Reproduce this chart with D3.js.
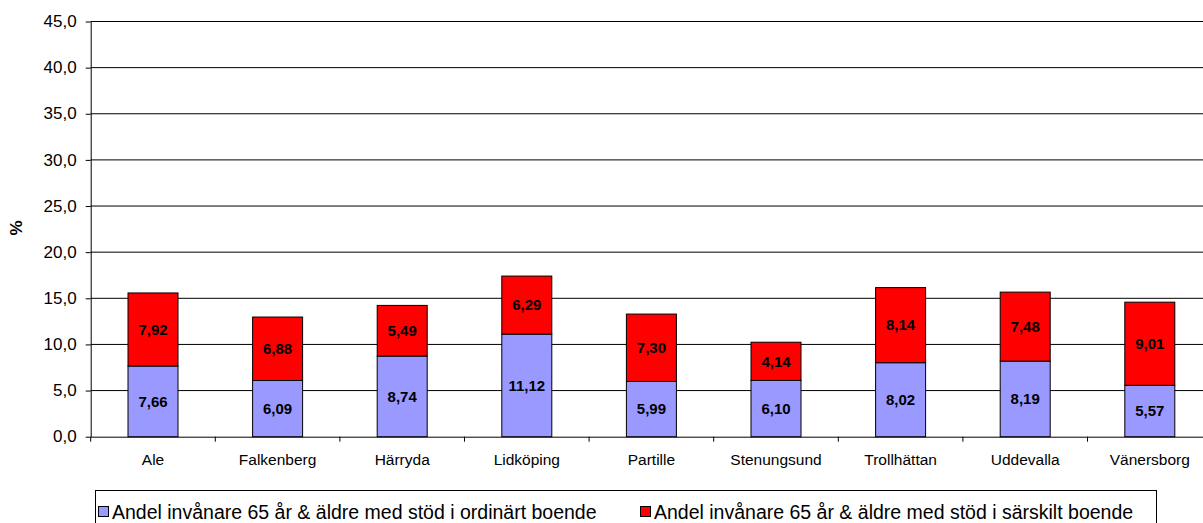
<!DOCTYPE html>
<html><head><meta charset="utf-8">
<script src="https://cdn.jsdelivr.net/npm/d3@7"></script>
<style>
body{margin:0;background:#fff;}
text{font-family:"Liberation Sans",Arial,sans-serif;}
</style></head>
<body>
<svg id="c" width="1203" height="523"></svg>
<script>
const categories = ["Ale","Falkenberg","Härryda","Lidköping","Partille","Stenungsund","Trollhättan","Uddevalla","Vänersborg"];
const ordinart = [7.66,6.09,8.74,11.12,5.99,6.10,8.02,8.19,5.57];
const sarskilt = [7.92,6.88,5.49,6.29,7.30,4.14,8.14,7.48,9.01];
const yTicks = [0,5,10,15,20,25,30,35,40,45];
const seriesNames = ["Andel invånare 65 år & äldre med stöd i ordinärt boende","Andel invånare 65 år & äldre med stöd i särskilt boende"];
const colors = ["#9999FF","#FF0000"];

const svg = d3.select("#c");
const left = 90.7, bw = 124.6;
const x = d3.scaleBand().domain(categories).range([left, left + bw*categories.length]).paddingInner(0).paddingOuter(0);
const y = d3.scaleLinear().domain([0,45]).range([436.7,21.5]);
const fmt = v => d3.format(".1f")(v).replace(".",",");
const fmt2 = v => d3.format(".2f")(v).replace(".",",");

// gridlines
svg.append("g").selectAll("line").data(yTicks.filter(d=>d>0)).join("line")
  .attr("x1",left).attr("x2",1203).attr("y1",d=>y(d)).attr("y2",d=>y(d))
  .attr("stroke","#000").attr("stroke-width",1);

// y axis
const ya = svg.append("g").attr("transform",`translate(${left},0)`)
  .call(d3.axisLeft(y).tickValues(yTicks).tickFormat(fmt).tickSize(5).tickSizeOuter(0));
ya.select(".domain").attr("stroke","#000");
ya.selectAll("line").attr("stroke","#000");
ya.selectAll("text").attr("font-size",17).attr("fill","#000").attr("x",-14).attr("dy","0.3em").attr("font-family","Liberation Sans, Arial, sans-serif");

// x axis
const xa = svg.append("g").attr("transform",`translate(0,${y(0)})`)
  .call(d3.axisBottom(x).tickSize(0).tickSizeOuter(0));
xa.select(".domain").attr("stroke","#000");
xa.selectAll("text").attr("font-size",15.5).attr("fill","#000").attr("dy","0").attr("y",28.5).attr("font-family","Liberation Sans, Arial, sans-serif");
svg.append("g").selectAll("line").data(categories.map((c,i)=>i)).join("line")
  .attr("x1",i=>x.range()[0]+i*x.bandwidth()).attr("x2",i=>x.range()[0]+i*x.bandwidth())
  .attr("y1",y(0)).attr("y2",y(0)+5).attr("stroke","#000");

// bars
const barW = 50;
const stacked = categories.map((c,i)=>({c, segs:[{v:ordinart[i],y0:0,y1:ordinart[i],k:0},{v:sarskilt[i],y0:ordinart[i],y1:ordinart[i]+sarskilt[i],k:1}]}));
const bg = svg.append("g").selectAll("g").data(stacked).join("g");
bg.selectAll("rect").data(d=>d.segs.map(s=>({...s,c:d.c}))).join("rect")
  .attr("x",d=>x(d.c)+x.bandwidth()/2-barW/2).attr("width",barW)
  .attr("y",d=>y(d.y1)).attr("height",d=>y(d.y0)-y(d.y1))
  .attr("fill",d=>colors[d.k]).attr("stroke","#000").attr("stroke-width",1);
bg.selectAll("text").data(d=>d.segs.map(s=>({...s,c:d.c}))).join("text")
  .attr("x",d=>x(d.c)+x.bandwidth()/2).attr("y",d=>y((d.y0+d.y1)/2))
  .attr("dy","0.35em").attr("text-anchor","middle").attr("font-size",15).attr("font-weight","bold")
  .text(d=>fmt2(d.v));

// y title
svg.append("text").attr("transform","translate(22,228) rotate(-90)")
  .attr("text-anchor","middle").attr("font-size",17).attr("font-weight","bold").text("%");

// legend
svg.append("rect").attr("x",95.5).attr("y",490.5).attr("width",1061).attr("height",40)
  .attr("fill","#fff").attr("stroke","#000").attr("stroke-width",1);
const lx = [98,640];
const lg = svg.append("g").selectAll("g").data(seriesNames).join("g")
  .attr("transform",(d,i)=>`translate(${lx[i]},0)`);
lg.append("rect").attr("x",0.5).attr("y",506.5).attr("width",10).attr("height",10)
  .attr("fill",(d,i)=>colors[i]).attr("stroke","#000");
lg.append("text").attr("x",14).attr("y",519).attr("font-size",19.5).text(d=>d);
</script>
</body></html>
